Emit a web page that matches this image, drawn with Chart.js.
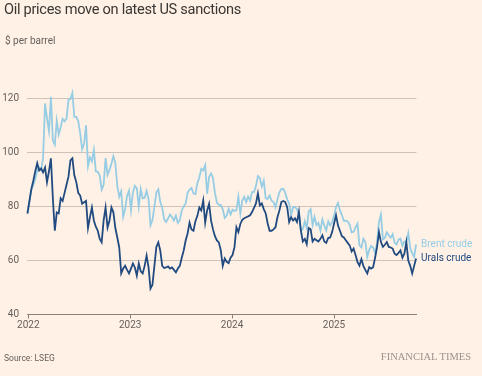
<!DOCTYPE html>
<html>
<head>
<meta charset="utf-8">
<title>Oil prices move on latest US sanctions</title>
<script src="https://cdn.jsdelivr.net/npm/chart.js@4.4.1/dist/chart.umd.min.js"></script>
<style>
    html, body { margin: 0; padding: 0; }
    body { width: 482px; height: 376px; background: #FFF1E5; position: relative; overflow: hidden; font-family: Roboto, "Liberation Sans", sans-serif; }
    #chart { position: absolute; left: 0; top: 0; }
    .txt { position: absolute; white-space: nowrap; line-height: 1; }
    #title { left: 4px; top: 2px; font-size: 14.6px; color: #3A3633; letter-spacing: -0.3px; }
    #unit { left: 5px; top: 36px; font-size: 10px; color: #66605C; }
    #source { left: 4px; top: 354px; font-size: 8.5px; color: #66605C; }
    #brand { right: 11px; top: 351.5px; font-family: "Liberation Serif", "DejaVu Serif", serif; font-size: 10.5px; color: #9B928C; }
</style>
</head>
<body>
<canvas id="chart" width="482" height="376"></canvas>
<div class="txt" id="title">Oil prices move on latest US sanctions</div>
<div class="txt" id="unit">$ per barrel</div>
<div class="txt" id="source">Source: LSEG</div>
<div class="txt" id="brand">FINANCIAL TIMES</div>
<script>
// Weekly closes, first week ending 29 Dec 2021
const firstWeek = '2021-12-29';

const brent = [
    77.8,
    81.8, 86.1, 87.9, 90.0, 93.3, 94.4, 93.5, 97.9, 118.1, 112.7, 107.9, 120.6, 104.4,
    102.8, 111.7, 106.6, 109.3, 112.4, 111.5, 112.5, 119.4, 119.7, 122.0, 113.1, 113.1,
    111.6, 107.0, 101.2, 103.2, 110.0, 94.9, 98.2, 96.7, 101.0, 93.0, 92.8, 91.4, 86.2,
    88.0, 97.9, 91.6, 93.5, 95.8, 98.6, 96.0, 87.6, 83.6, 85.6, 76.1, 79.0, 83.9, 85.9,
    78.6, 85.3, 87.6, 86.7, 79.9, 86.4, 83.0, 83.2, 85.8, 82.8, 73.0, 75.0, 79.8,
    85.1, 86.3, 81.7, 79.5, 75.3, 74.2, 75.6, 77.0, 76.1, 74.8, 76.6, 73.9, 74.9,
    78.5, 79.9, 81.1, 85.0, 86.2, 86.8, 84.8, 84.5, 88.6, 90.7, 93.9, 93.3, 95.3,
    84.6, 90.9, 92.2, 90.5, 84.9, 81.4, 80.6, 80.6, 78.9, 75.8, 76.6, 79.1, 77.0,
    78.8, 78.3, 78.6, 83.6, 77.3, 82.2, 83.5, 81.6, 83.6, 82.1, 85.3, 85.4, 87.5,
    91.2, 90.5, 87.3, 89.5, 83.0, 82.8, 84.0, 82.1, 81.6, 79.6, 82.6, 85.2, 86.4,
    86.5, 85.0, 82.6, 81.1, 76.8, 79.7, 79.7, 79.0, 76.9, 71.1, 71.6, 74.5, 72.0,
    78.1, 79.0, 73.1, 76.1, 73.1, 73.9, 71.0, 75.2, 72.9, 71.1, 74.5, 72.9, 74.2,
    76.5, 79.8, 81.3, 78.5, 76.8, 74.7, 74.7, 74.4, 73.2, 70.4, 70.6, 72.2, 73.6,
    65.6, 64.8, 68.0, 66.9, 61.3, 63.9, 65.4, 64.8, 62.8, 66.5, 74.2, 77.0, 67.8,
    68.3, 70.4, 69.3, 68.4, 69.7, 66.6, 65.9, 67.7, 68.1, 65.5, 67.0, 66.7, 70.1,
    64.5, 62.7, 61.3, 65.9
];

const urals = [
    77.3,
    82.0, 86.5, 89.5, 93.0, 96.0, 93.3, 94.0, 92.6, 94.4, 89.0, 93.0, 97.8, 83.0,
    71.0, 77.8, 77.4, 83.0, 82.0, 85.0, 88.0, 91.0, 97.0, 97.8, 91.5, 89.0,
    85.0, 84.0, 81.0, 81.5, 82.0, 72.0, 76.0, 79.6, 74.8, 72.5, 71.0, 68.0, 66.7,
    74.8, 79.6, 72.2, 74.8, 79.6, 77.8, 72.0, 68.5, 64.8, 55.2, 57.0, 58.0, 56.5, 55.2,
    57.0, 58.9, 57.4, 54.4, 58.9, 56.0, 55.2, 58.0, 61.8, 57.4, 49.6, 51.0, 58.0,
    65.0, 66.7, 63.7, 58.0, 57.2, 57.4, 57.8, 57.0, 57.4, 56.5, 55.6, 57.0, 58.0,
    61.0, 63.7, 67.4, 70.0, 74.0, 71.5, 71.0, 74.5, 76.5, 79.6, 78.5, 82.2, 74.0,
    78.5, 81.0, 74.8, 71.5, 69.0, 67.4, 66.7, 63.7, 58.0, 60.7, 59.5, 59.0, 61.0,
    62.0, 64.9, 72.3, 70.5, 73.5, 75.0, 75.6, 76.0, 76.3, 76.7, 77.9, 79.5, 81.1,
    84.8, 80.4, 81.1, 79.0, 77.4, 73.7, 71.0, 71.0, 71.5, 72.3, 76.0, 78.5, 81.6,
    82.0, 81.6, 79.7, 74.2, 76.0, 74.8, 75.6, 74.2, 78.0, 71.0, 67.0, 68.0, 66.0,
    72.0, 71.5, 67.0, 68.0, 67.5, 67.0, 68.0, 69.3, 67.0, 66.5, 68.3, 68.5, 70.5,
    73.7, 76.7, 73.0, 71.0, 69.0, 68.5, 67.5, 66.5, 65.6, 63.3, 64.4, 62.0, 59.4,
    58.1, 60.5, 58.0, 56.5, 55.2, 57.5, 57.0, 57.5, 61.0, 64.9, 70.5, 66.8, 65.0,
    65.8, 66.8, 65.0, 64.8, 64.4, 62.5, 62.0, 62.8, 63.7, 61.0, 62.5, 66.8, 60.0,
    58.0, 55.2, 58.0, 60.7
];

const yearTicks = [2022, 2023, 2024, 2025];
const yTicks = [40, 60, 80, 100, 120];

const brentColor = '#96CDE4';
const uralsColor = '#204A80';
const gridColor = '#CFC3B9';
const axisColor = '#8A817B';
const labelColor = '#66605C';
const fontFamily = 'Roboto, "Liberation Sans", sans-serif';

// turn week index into a fractional year for the linear x axis
function weekToYear(i) {
    const start = new Date(firstWeek + 'T00:00:00Z').getTime();
    const t = start + i * 7 * 864e5;
    return 2022 + (t - Date.UTC(2022, 0, 1)) / (365.25 * 864e5);
}

function toPoints(values) {
    return values.map((v, i) => ({ x: weekToYear(i), y: v }));
}

// names written next to the last point of each line
const endLabels = {
    id: 'endLabels',
    afterDatasetsDraw(chart) {
        const ctx = chart.ctx;
        chart.data.datasets.forEach((ds, i) => {
            const meta = chart.getDatasetMeta(i);
            const last = meta.data[meta.data.length - 1];
            if (!last) return;
            ctx.save();
            ctx.font = '10px ' + fontFamily;
            ctx.fillStyle = ds.borderColor;
            ctx.textBaseline = 'middle';
            ctx.textAlign = 'left';
            ctx.fillText(ds.label, last.x + 5, last.y);
            ctx.restore();
        });
    }
};

document.addEventListener('DOMContentLoaded', function () {
    const ctx = document.getElementById('chart').getContext('2d');
    new Chart(ctx, {
        type: 'line',
        data: {
            datasets: [
                {
                    label: 'Urals crude',
                    data: toPoints(urals),
                    borderColor: uralsColor,
                    borderWidth: 1.8,
                    pointRadius: 0,
                    tension: 0,
                    order: 0
                },
                {
                    label: 'Brent crude',
                    data: toPoints(brent),
                    borderColor: brentColor,
                    borderWidth: 1.8,
                    pointRadius: 0,
                    tension: 0,
                    order: 1
                }
            ]
        },
        options: {
            responsive: false,
            animation: false,
            devicePixelRatio: 1,
            clip: false,
            layout: {
                padding: { left: 0, top: 87.5, right: 65.5, bottom: 39.5 }
            },
            plugins: {
                legend: { display: false },
                tooltip: { enabled: false }
            },
            scales: {
                x: {
                    type: 'linear',
                    min: 2021.9872,
                    max: 2025.8096,
                    afterBuildTicks: s => { s.ticks = yearTicks.map(v => ({ value: v })); },
                    afterFit: s => { s.height = 22; },
                    border: { display: true, color: axisColor, width: 1 },
                    grid: { drawOnChartArea: false, drawTicks: true, tickLength: 4, color: axisColor },
                    ticks: {
                        padding: 1,
                        color: labelColor,
                        font: { family: fontFamily, size: 10 },
                        maxRotation: 0,
                        autoSkip: false,
                        callback: v => String(v)
                    }
                },
                y: {
                    min: 40,
                    max: 124,
                    afterBuildTicks: s => { s.ticks = yTicks.map(v => ({ value: v })); },
                    afterFit: s => { s.width = 27; },
                    border: { display: false },
                    grid: { color: gridColor, drawTicks: false, lineWidth: 1 },
                    ticks: {
                        padding: 8,
                        color: labelColor,
                        font: { family: fontFamily, size: 10 }
                    }
                }
            }
        },
        plugins: [endLabels]
    });
});
</script>
</body>
</html>
